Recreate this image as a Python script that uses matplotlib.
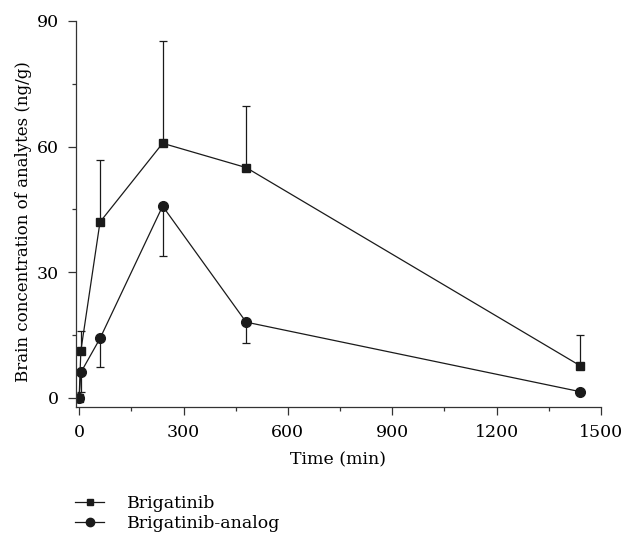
import matplotlib
matplotlib.use("Agg")
import matplotlib.pyplot as plt
from matplotlib.lines import Line2D
from matplotlib.ticker import MultipleLocator

# time points (min)
time = [0, 5, 60, 240, 480, 1440]

# Brigatinib, mean and upper SD
brig = [0, 11.3, 42.0, 60.8, 55.0, 7.7]
brig_sd = [0, 4.7, 14.8, 24.5, 14.8, 7.4]

# Brigatinib-analog, mean and lower SD
analog = [0, 6.1, 14.2, 45.8, 18.1, 1.5]
analog_sd = [0, 4.7, 6.7, 11.8, 5.0, 0]

plt.rcParams['font.family'] = ['DejaVu Serif']
plt.rcParams['font.size'] = 12.5

fig = plt.figure(figsize=(6.24, 5.38), dpi=100)
ax = fig.add_axes([0.1218, 0.244, 0.8413, 0.717])

zeros = [0] * len(time)
ax.errorbar(time, brig, yerr=[zeros, brig_sd], color='#1a1a1a', lw=0.9,
            marker='s', ms=6, capsize=3, capthick=0.9, elinewidth=0.9)
ax.errorbar(time, analog, yerr=[analog_sd, zeros], color='#1a1a1a', lw=0.9,
            marker='o', ms=7, capsize=3, capthick=0.9, elinewidth=0.9)

ax.set_xlim(-9, 1500)
ax.set_ylim(-2.1, 90)
ax.xaxis.set_major_locator(MultipleLocator(300))
ax.xaxis.set_minor_locator(MultipleLocator(150))
ax.yaxis.set_major_locator(MultipleLocator(30))
ax.yaxis.set_minor_locator(MultipleLocator(15))
ax.tick_params(which='major', length=5.5, width=0.9, color='#333333')
ax.tick_params(which='minor', length=3, width=0.9, color='#333333')
ax.tick_params(axis='x', which='major', pad=7)
ax.tick_params(axis='y', which='major', pad=7)
for s in ['top', 'right']:
    ax.spines[s].set_visible(False)
for s in ['left', 'bottom']:
    ax.spines[s].set_linewidth(0.9)
    ax.spines[s].set_color('#333333')

ax.set_xlabel('Time (min)', labelpad=7.5)
ax.set_ylabel('Brain concentration of analytes (ng/g)', labelpad=3, fontsize=12)
ax.yaxis.label.set_y(0.48)

handles = [Line2D([], [], color='#1a1a1a', lw=0.9, marker='s', ms=5),
           Line2D([], [], color='#1a1a1a', lw=0.9, marker='o', ms=6)]
fig.legend(handles, ['Brigatinib', 'Brigatinib-analog'], loc='upper left',
           bbox_to_anchor=(0.12, 0.079), frameon=False,
           handlelength=1.7, handletextpad=1.3, labelspacing=0.15,
           borderpad=0, borderaxespad=0)

fig.savefig('out.png', dpi=100)
